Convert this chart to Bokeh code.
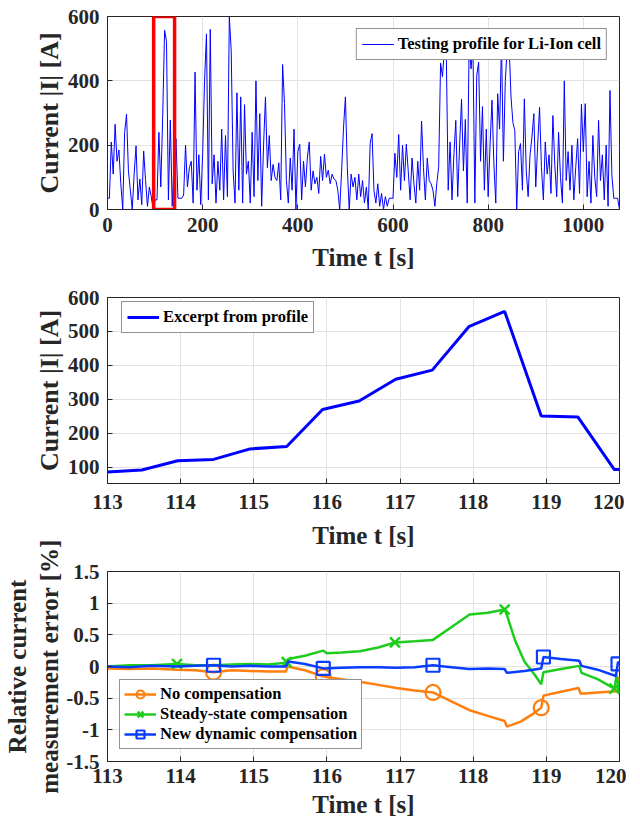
import numpy as np
from bokeh.plotting import figure
from bokeh.layouts import column
from bokeh.models import Range1d, FixedTicker, Legend, LegendItem, LinearAxis
from bokeh.embed import file_html
from bokeh.resources import INLINE

# ---------------- data ----------------
# Top panel: full testing profile, current |I| [A] sampled every 4 s
profile_step = 4
profile_i = [
    35, 35, 210, 110, 265, 150, 185, 80, 0, 240, 296, 120, 60, 0, 110, 198, 30, 95, 15, 182, 90, 10, 70, 40, 0,
    30, 30, 240, 70, 290, 557, 522, 30, 278, 10, 150, 220, 35, 35, 35, 45, 200, 70, 130, 150, 20, 427, 60, 170, 15,
    175, 400, 546, 30, 560, 80, 170, 20, 150, 60, 250, 30, 230, 40, 600, 494, 120, 20, 363, 60, 350, 20, 326, 110, 150,
    20, 240, 40, 400, 90, 298, 10, 200, 350, 130, 230, 90, 140, 100, 90, 145, 30, 451, 329, 90, 20, 160, 60, 250, 0,
    180, 203, 30, 150, 70, 160, 210, 60, 120, 80, 100, 50, 165, 90, 172, 100, 122, 80, 110, 95, 90, 60, 0, 120, 253,
    350, 130, 0, 110, 70, 100, 30, 110, 40, 90, 20, 70, 0, 205, 236, 60, 20, 80, 10, 50, 0, 40, 10, 35, 35,
    35, 175, 100, 233, 60, 200, 90, 203, 120, 30, 160, 80, 20, 150, 60, 275, 130, 30, 160, 90, 80, 60, 10, 80, 133,
    455, 413, 500, 486, 60, 210, 30, 170, 277, 40, 200, 343, 120, 280, 20, 520, 437, 510, 20, 417, 458, 150, 320, 60, 250,
    40, 200, 340, 142, 20, 360, 250, 520, 150, 401, 500, 510, 350, 270, 246, 0, 180, 205, 60, 344, 120, 40, 170, 225, 298,
    70, 200, 318, 130, 30, 210, 110, 170, 50, 292, 140, 40, 240, 100, 20, 400, 90, 180, 60, 200, 30, 130, 220, 50, 327,
    180, 329, 40, 150, 20, 230, 100, 40, 277, 90, 170, 30, 200, 10, 370, 106, 35, 35, 35, 0,
]
profile_t = np.arange(len(profile_i)) * profile_step
excerpt_box = (97, 141)  # highlighted time window [s]

# Middle panel: excerpt from profile
excerpt_t = [113.0, 113.47, 113.96, 114.45, 114.95, 115.45, 115.94, 116.44, 116.94, 117.44,
             117.94, 118.43, 118.93, 119.43, 119.93, 120.0]
excerpt_i = [86, 92, 119, 123, 154, 161, 270, 295, 359, 386, 514, 559, 251, 248, 93, 93]

# Bottom panel: relative current measurement error [%]
nocomp_t = [113.0, 113.3, 113.6, 113.95, 114.2, 114.45, 114.7, 114.95, 115.2, 115.44, 115.46, 115.7,
            115.95, 116.2, 116.45, 116.7, 116.95, 117.2, 117.45, 117.7, 117.95, 118.2, 118.43, 118.46,
            118.65, 118.8, 118.93, 118.96, 119.2, 119.44, 119.47, 119.7, 119.97, 120.0]
nocomp_v = [-0.03, -0.04, -0.03, -0.05, -0.06, -0.09, -0.06, -0.07, -0.08, -0.08, 0.0, -0.06,
            -0.16, -0.2, -0.24, -0.29, -0.34, -0.38, -0.41, -0.55, -0.69, -0.78, -0.86, -0.95,
            -0.87, -0.76, -0.65, -0.46, -0.40, -0.34, -0.43, -0.41, -0.39, -0.17]
nocomp_mk_t = [114.45, 115.95, 117.45, 118.93]
nocomp_mk_v = [-0.09, -0.16, -0.41, -0.65]

steady_t = [113.0, 113.3, 113.6, 113.95, 114.2, 114.45, 114.7, 114.95, 115.2, 115.44, 115.47, 115.7,
            115.95, 116.0, 116.2, 116.45, 116.7, 116.93, 117.2, 117.45, 117.7, 117.95, 118.2, 118.43,
            118.47, 118.57, 118.7, 118.84, 118.93, 118.96, 119.2, 119.45, 119.48, 119.7, 119.93, 119.96, 120.0]
steady_v = [0.0, 0.02, 0.02, 0.04, 0.02, 0.02, 0.03, 0.04, 0.03, 0.06, 0.12, 0.17,
            0.25, 0.21, 0.22, 0.24, 0.30, 0.38, 0.40, 0.42, 0.62, 0.82, 0.85, 0.90,
            0.78, 0.42, 0.08, -0.13, -0.28, -0.09, -0.04, 0.01, -0.10, -0.20, -0.35, -0.14, -0.42]
steady_mk_t = [113.95, 115.45, 116.93, 118.43, 119.93]
steady_mk_v = [0.04, 0.07, 0.38, 0.90, -0.35]

dyn_t = [113.0, 113.3, 113.6, 113.95, 114.2, 114.45, 114.7, 114.95, 115.2, 115.44, 115.47, 115.7,
         115.95, 116.2, 116.45, 116.7, 116.95, 117.2, 117.45, 117.7, 117.95, 118.2, 118.43, 118.46,
         118.7, 118.93, 118.96, 119.2, 119.45, 119.48, 119.7, 119.95, 119.98, 120.0]
dyn_v = [0.0, -0.01, 0.01, 0.0, 0.01, 0.02, 0.0, 0.01, 0.0, 0.0, 0.08, 0.04,
         -0.03, -0.02, -0.01, -0.01, -0.02, -0.01, 0.02, -0.01, -0.04, -0.03, -0.04, -0.10,
         -0.07, -0.03, 0.15, 0.12, 0.09, 0.01, -0.05, -0.15, 0.07, 0.05]
dyn_mk_t = [114.45, 115.95, 117.45, 118.96, 119.98]
dyn_mk_v = [0.02, -0.03, 0.02, 0.15, 0.04]

top_xticks = [0, 200, 400, 600, 800, 1000]
top_yticks = [0, 200, 400, 600]
mid_yticks = [100, 200, 300, 400, 500, 600]
exc_xticks = [113, 114, 115, 116, 117, 118, 119, 120]
err_yticks = [-1.5, -1, -0.5, 0, 0.5, 1, 1.5]
err_ylabels = {-1.5: "-1.5", -1: "-1", -0.5: "-0.5", 0: "0", 0.5: "0.5", 1: "1", 1.5: "1.5"}

# ---------------- style ----------------
FONT = "Liberation Serif"
AX = "#262626"
BLUE = "#0000FF"
ORANGE = "#FF7F0E"
GREEN = "#1ECC1E"
DBLUE = "#0A3CFF"


def make_fig(fh, top, bottom, xr, yr, xstand=8, xlab_stand=9):
    p = figure(frame_width=512, frame_height=fh, min_border_left=105, min_border_right=7,
               min_border_top=top, min_border_bottom=bottom, x_range=xr, y_range=yr,
               output_backend="svg", toolbar_location=None)
    p.outline_line_color = AX
    p.outline_line_width = 1
    p.background_fill_color = "white"
    p.border_fill_color = "white"
    xax, yax = p.xaxis[0], p.yaxis[0]
    for ax in (xax, yax):
        ax.axis_line_color = AX
        ax.major_tick_line_color = AX
        ax.major_tick_in = 5
        ax.major_tick_out = 0
        ax.minor_tick_line_color = None
        ax.major_label_text_font = FONT
        ax.major_label_text_font_style = "bold"
        ax.major_label_text_font_size = "21px"
        ax.major_label_text_color = AX
        ax.axis_label_text_font = FONT
        ax.axis_label_text_font_style = "bold"
        ax.axis_label_text_color = AX
    xax.major_label_standoff = xstand
    xax.axis_label_standoff = xlab_stand
    xax.axis_label_text_font_size = "25px"
    yax.major_label_standoff = 8
    yax.axis_label_standoff = 1
    yax.axis_label_text_font_size = "26px"
    p.grid.grid_line_color = "#e2e2e2"
    p.grid.grid_line_width = 1
    return p, xax, yax


def style_legend(leg):
    leg.label_text_font = FONT
    leg.label_text_font_style = "bold"
    leg.label_text_font_size = "16.5px"
    leg.label_text_color = "black"
    leg.border_line_color = AX
    leg.border_line_width = 1
    leg.background_fill_alpha = 1
    leg.padding = 5
    leg.spacing = 0
    leg.glyph_width = 32
    leg.label_standoff = 4


# ---------------- top panel ----------------
p1, x1, y1 = make_fig(193, 16, 65, Range1d(0, 1076), Range1d(0, 600))
x1.ticker = FixedTicker(ticks=top_xticks)
y1.ticker = FixedTicker(ticks=top_yticks)
x1.axis_label = "Time t [s]"
y1.axis_label = "Current |I| [A]"
r1 = p1.line(profile_t, profile_i, line_color=BLUE, line_width=1)
p1.quad(left=[excerpt_box[0]], right=[excerpt_box[1]], bottom=[0], top=[600],
        fill_alpha=0, line_color="#FF0000", line_width=3.5)
leg1 = Legend(items=[LegendItem(label="Testing profile for Li-Ion cell", renderers=[r1])],
              location="top_right", margin=12)
style_legend(leg1)
p1.add_layout(leg1, "center")

# ---------------- middle panel ----------------
p2, x2, y2 = make_fig(186, 23, 34, Range1d(113, 120), Range1d(52, 600), xstand=11)
x2.ticker = FixedTicker(ticks=exc_xticks)
y2.ticker = FixedTicker(ticks=mid_yticks)
y2.axis_label = "Current |I| [A]"
r2 = p2.line(excerpt_t, excerpt_i, line_color=BLUE, line_width=3)
leg2 = Legend(items=[LegendItem(label="Excerpt from profile", renderers=[r2])],
              location=(14, 150), margin=0)
style_legend(leg2)
p2.add_layout(leg2, "center")

# ---------------- bottom panel ----------------
p3, x3, y3 = make_fig(190, 54, 62, Range1d(113, 120), Range1d(-1.5, 1.5), xstand=7, xlab_stand=5)
x3.ticker = FixedTicker(ticks=exc_xticks)
x3.axis_label = "Time t [s]"
y3.ticker = FixedTicker(ticks=err_yticks)
y3.major_label_overrides = err_ylabels
y3.axis_label = "Relative current\nmeasurement error [%]"
y3.axis_label_standoff = 0
y3.axis_label_text_font_size = "25px"
# x-axis title of the middle panel, drawn in the gap above the bottom panel
mid_axis = LinearAxis(ticker=FixedTicker(ticks=[]), axis_label="Time t [s]",
                      axis_line_color=None, major_tick_line_color=None, minor_tick_line_color=None,
                      major_tick_in=0, major_tick_out=0,
                      major_label_text_font_size="0px", major_label_standoff=0,
                      axis_label_standoff=23,
                      axis_label_text_font=FONT, axis_label_text_font_style="bold",
                      axis_label_text_font_size="25px", axis_label_text_color=AX)
p3.add_layout(mid_axis, "above")

l_nc = p3.line(nocomp_t, nocomp_v, line_color=ORANGE, line_width=2.5)
m_nc = p3.scatter(nocomp_mk_t, nocomp_mk_v, marker="circle", size=15, fill_color=None,
                  line_color=ORANGE, line_width=2.2)
l_ss = p3.line(steady_t, steady_v, line_color=GREEN, line_width=2.5)
m_ss = p3.scatter(steady_mk_t, steady_mk_v, marker="x", size=14, line_color=GREEN, line_width=2.5)
l_dy = p3.line(dyn_t, dyn_v, line_color=DBLUE, line_width=2.5)
m_dy = p3.scatter(dyn_mk_t, dyn_mk_v, marker="square", size=13, fill_color=None,
                  line_color=DBLUE, line_width=2.2)
leg3 = Legend(items=[
    LegendItem(label="No compensation", renderers=[l_nc, m_nc]),
    LegendItem(label="Steady-state compensation", renderers=[l_ss, m_ss]),
    LegendItem(label="New dynamic compensation", renderers=[l_dy, m_dy]),
], location="bottom_left", margin=12)
style_legend(leg3)
leg3.padding = 4
p3.add_layout(leg3, "center")

layout = column(p1, p2, p3, spacing=0)
open("out.html", "w").write(file_html(layout, INLINE))
